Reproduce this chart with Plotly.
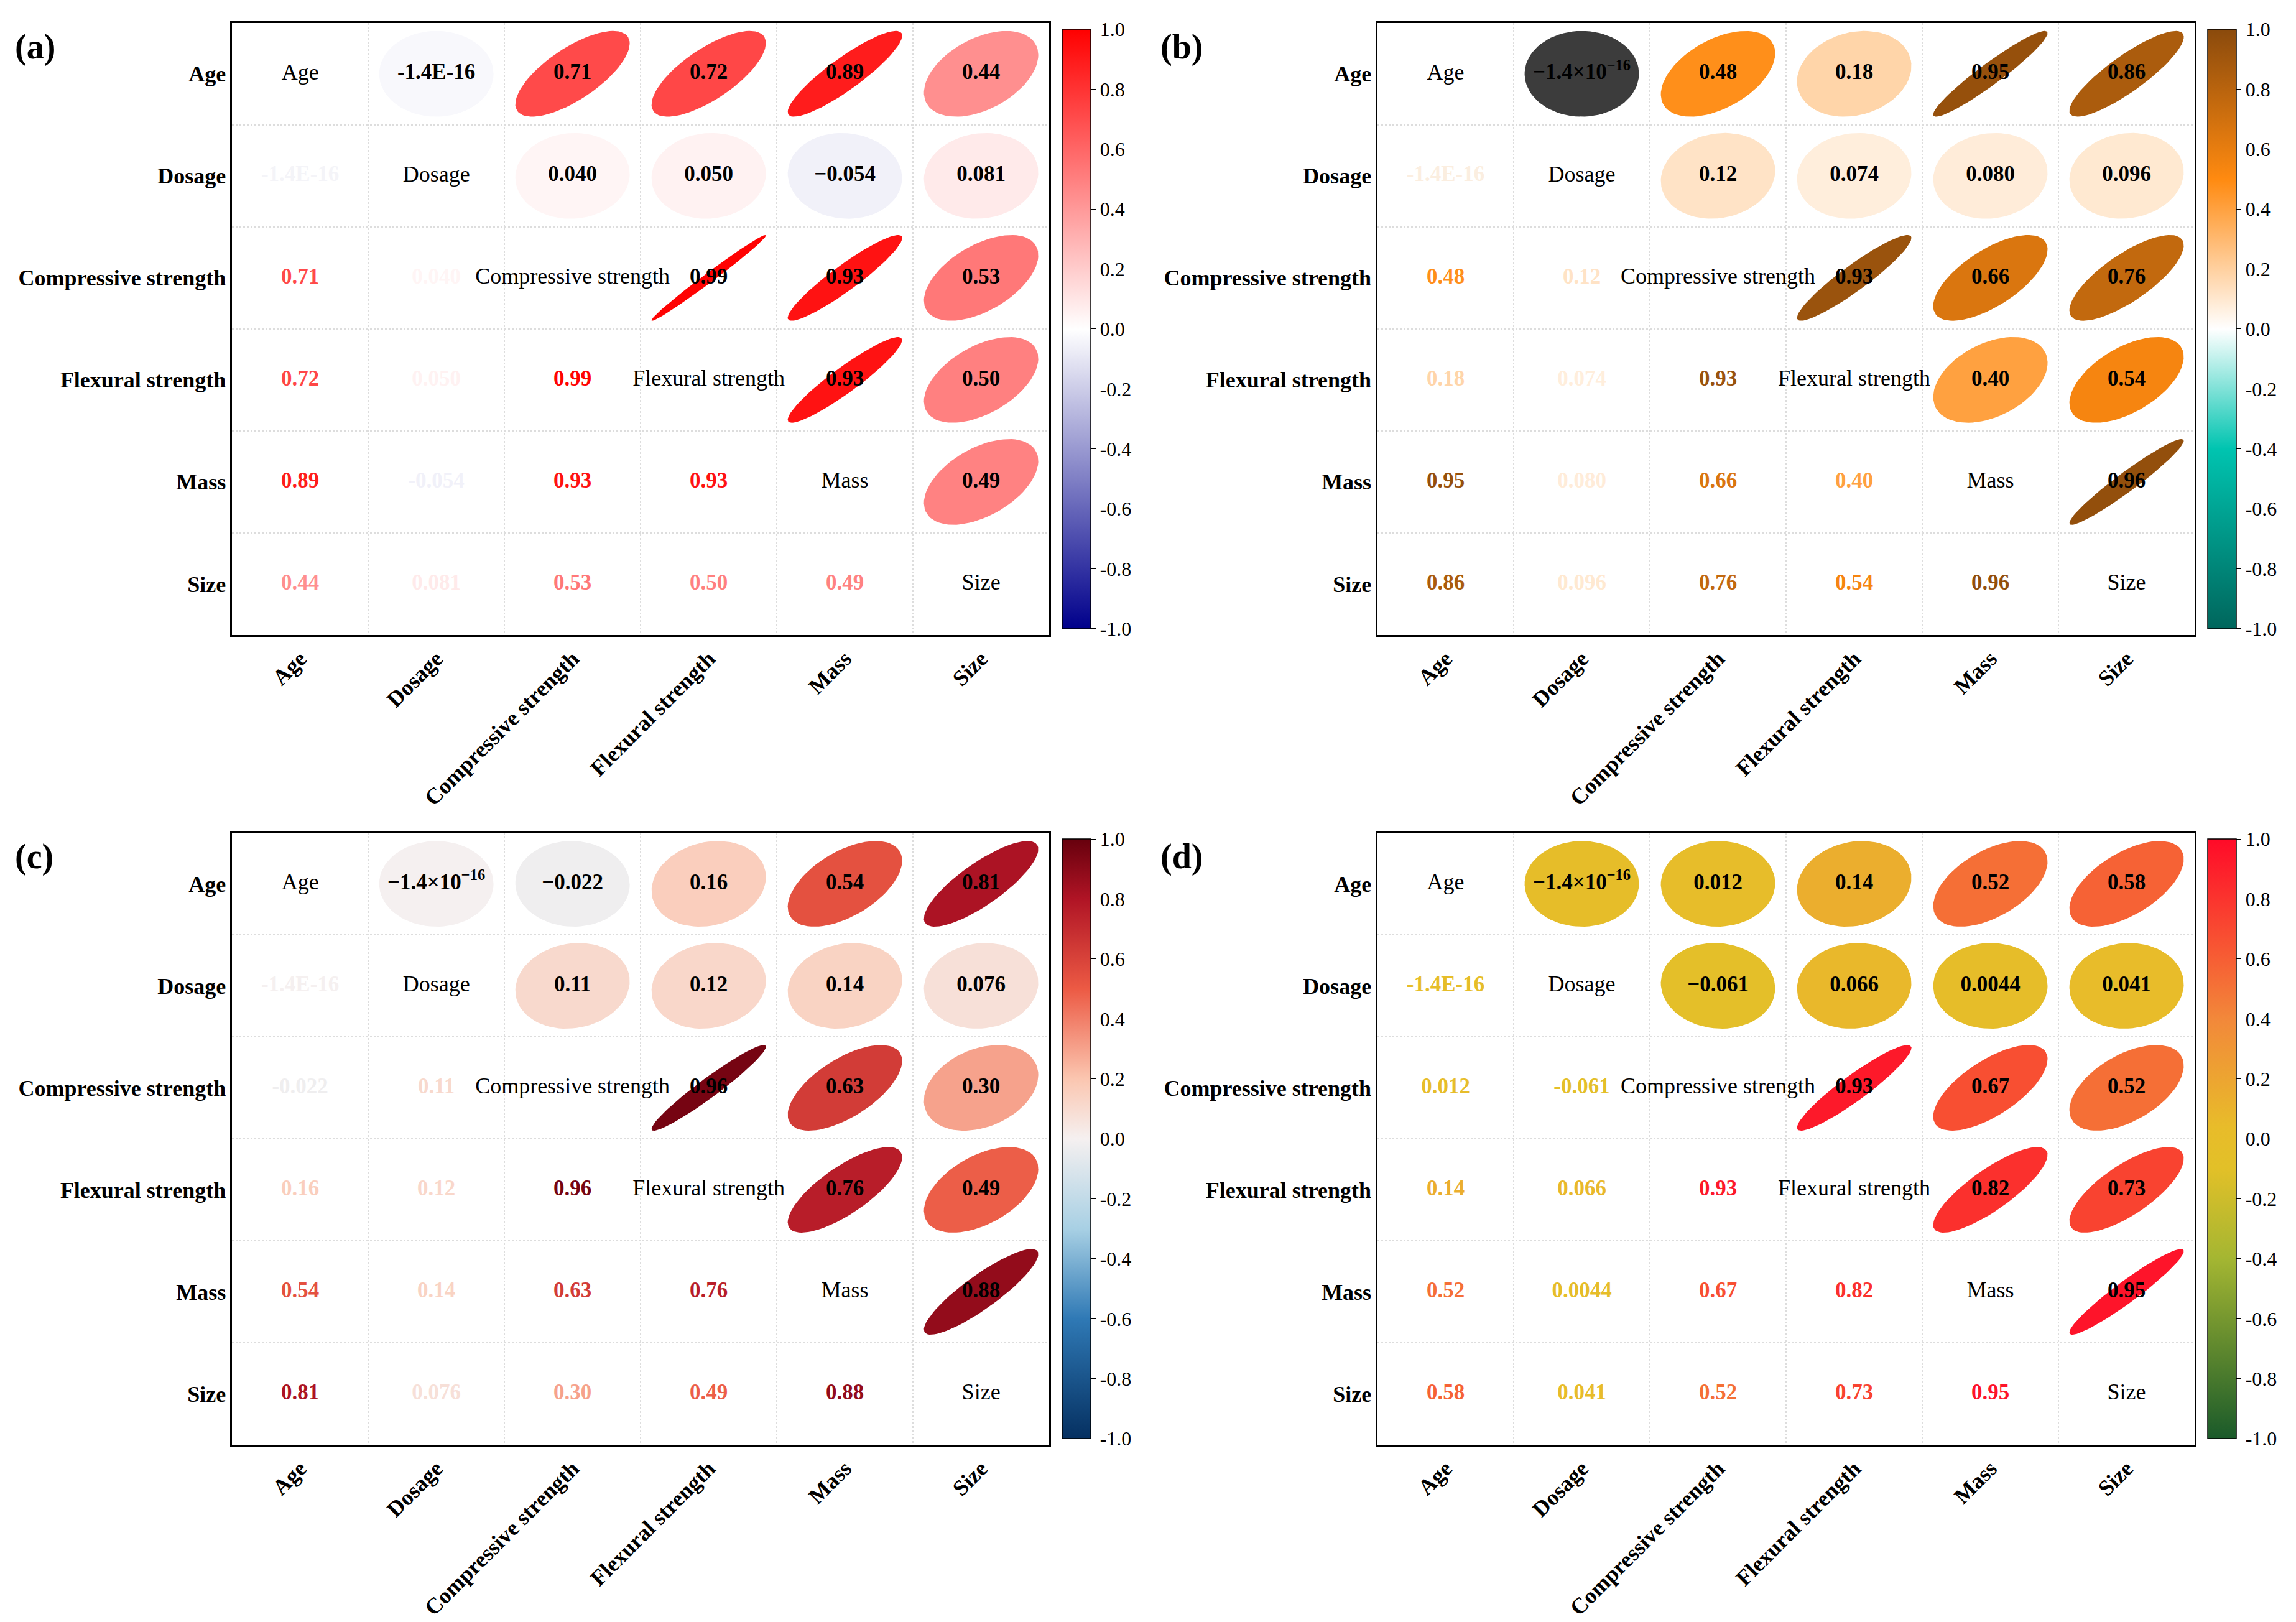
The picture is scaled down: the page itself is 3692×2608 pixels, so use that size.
import numpy as np
import plotly.graph_objects as go
from plotly.colors import sample_colorscale

variables = ["Age", "Dosage", "Compressive strength", "Flexural strength", "Mass", "Size"]
tick_values = [-1.0, -0.8, -0.6, -0.4, -0.2, 0.0, 0.2, 0.4, 0.6, 0.8, 1.0]

# upper triangle, row by row (Age-Dosage, Age-CS, ... Mass-Size)
corr_a = ["-1.4E-16", "0.71", "0.72", "0.89", "0.44",
          "0.040", "0.050", "-0.054", "0.081",
          "0.99", "0.93", "0.53",
          "0.93", "0.50",
          "0.49"]
corr_b = ["-1.4E-16", "0.48", "0.18", "0.95", "0.86",
          "0.12", "0.074", "0.080", "0.096",
          "0.93", "0.66", "0.76",
          "0.40", "0.54",
          "0.96"]
corr_c = ["-1.4E-16", "-0.022", "0.16", "0.54", "0.81",
          "0.11", "0.12", "0.14", "0.076",
          "0.96", "0.63", "0.30",
          "0.76", "0.49",
          "0.88"]
corr_d = ["-1.4E-16", "0.012", "0.14", "0.52", "0.58",
          "-0.061", "0.066", "0.0044", "0.041",
          "0.93", "0.67", "0.52",
          "0.82", "0.73",
          "0.95"]

scale_a = [[0, "#00008b"], [0.5, "#ffffff"], [1, "#ff0000"]]
scale_b = [[0, "#00665c"], [0.3, "#00c4b0"], [0.5, "#ffffff"], [0.75, "#ff8a10"], [1, "#8a4a0c"]]
scale_c = [[0, "#053061"], [0.2, "#2f79b5"], [0.35, "#a8d0e4"], [0.5, "#f5f0f0"], [0.6, "#fbc6b0"],
           [0.75, "#ec5a44"], [0.9, "#b01425"], [1, "#67000d"]]
scale_d = [[0, "#1a5a2a"], [0.3, "#a4b632"], [0.45, "#e2c028"], [0.52, "#e8bc2a"], [0.7, "#f2883a"],
           [1, "#ff0a28"]]

panels = [
    ("(a)", corr_a, scale_a, False, [0.0989, 0.4548], [0.6116, 0.989]),
    ("(b)", corr_b, scale_b, True, [0.5978, 0.9537], [0.6116, 0.989]),
    ("(c)", corr_c, scale_c, True, [0.0989, 0.4548], [0.1123, 0.4896]),
    ("(d)", corr_d, scale_d, True, [0.5978, 0.9537], [0.1123, 0.4896]),
]

FONT = "Liberation Serif"
fig = go.Figure()
n = len(variables)
t = np.linspace(0, 2 * np.pi, 80)

for p, (tag, vals, cscale, sup_label, xdom, ydom) in enumerate(panels):
    ax = "" if p == 0 else str(p + 1)
    xref, yref = "x" + ax, "y" + ax
    pairs = [(i, j) for i in range(n) for j in range(i + 1, n)]
    for (i, j), s in zip(pairs, vals):
        r = float(s)
        col = sample_colorscale(cscale, [(r + 1) / 2])[0]
        fill = col
        if tag == "(b)" and abs(r) < 1e-6:
            fill = "#3c3c3c"
        if tag == "(a)" and abs(r) < 1e-6:
            fill = "#f8f8fc"
        d = np.arccos(r)
        ex = j + 0.42 * np.cos(t + d / 2)
        ey = i - 0.42 * np.cos(t - d / 2)
        fig.add_trace(go.Scatter(x=ex, y=ey, mode="lines", fill="toself", fillcolor=fill,
                                 line=dict(width=0), hoverinfo="skip", showlegend=False,
                                 xaxis=xref, yaxis=yref))
        up = s.replace("-", "\u2212")
        if abs(r) < 1e-6:
            up = "\u22121.4\u00d710<sup>\u221216</sup>" if sup_label else "-1.4E-16"
        fig.add_trace(go.Scatter(x=[j], y=[i], mode="text", text=["<b>%s</b>" % up],
                                 textfont=dict(family=FONT, size=35, color="black"),
                                 hoverinfo="skip", showlegend=False, xaxis=xref, yaxis=yref))
        low = col if tag != "(b)" or abs(r) > 1e-6 else "#fbeee0"
        if tag == "(a)" and abs(r) < 1e-6:
            low = "#f4f4f8"
        fig.add_trace(go.Scatter(x=[i], y=[j], mode="text", text=["<b>%s</b>" % s],
                                 textfont=dict(family=FONT, size=35, color=low),
                                 hoverinfo="skip", showlegend=False, xaxis=xref, yaxis=yref))
    fig.add_trace(go.Scatter(x=list(range(n)), y=list(range(n)), mode="text", text=variables,
                             textfont=dict(family=FONT, size=36, color="black"),
                             hoverinfo="skip", showlegend=False, xaxis=xref, yaxis=yref))
    fig.add_trace(go.Scatter(
        x=[None], y=[None], mode="markers", showlegend=False, xaxis=xref, yaxis=yref,
        marker=dict(color=[0], cmin=-1, cmax=1, colorscale=cscale, showscale=True,
                    colorbar=dict(x=xdom[1] + 0.003, xanchor="left", y=ydom[0], yanchor="bottom",
                                  len=ydom[1] - ydom[0], lenmode="fraction", thickness=46,
                                  outlinewidth=1.5, outlinecolor="black",
                                  tickvals=tick_values, ticktext=["%.1f" % v for v in tick_values],
                                  ticks="outside", ticklen=8, tickcolor="black",
                                  tickfont=dict(family=FONT, size=32, color="black"))),
    ))
    grid = [k + 0.5 for k in range(n - 1)]
    common = dict(showline=True, mirror=True, linecolor="black", linewidth=2.5, showgrid=False,
                  zeroline=False, tickvals=list(range(n)),
                  ticktext=["<b>%s</b>" % v for v in variables],
                  tickfont=dict(family=FONT, size=36, color="black"), ticks="",
                  minor=dict(tickvals=grid, showgrid=True, gridcolor="#dddddd", griddash="dot", gridwidth=1.5))
    fig.layout["xaxis" + ax] = dict(common, domain=xdom, range=[-0.5, n - 0.5], tickangle=-45,
                                    anchor=yref)
    fig.layout["yaxis" + ax] = dict(common, domain=ydom, range=[n - 0.5, -0.5], anchor=xref)
    fig.add_annotation(text="<b>%s</b>" % tag, x=xdom[0] - 0.095, y=ydom[1] - 0.002,
                       xref="paper", yref="paper", xanchor="left", yanchor="top",
                       showarrow=False, font=dict(family=FONT, size=56, color="black"))

fig.update_layout(width=3692, height=2608, margin=dict(l=0, r=0, t=0, b=0),
                  plot_bgcolor="white", paper_bgcolor="white")
fig.write_html("out.html")
